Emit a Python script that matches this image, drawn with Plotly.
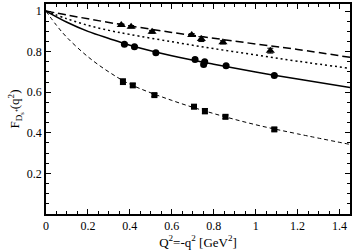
import plotly.graph_objects as go

# data points
tri_x = [0.359, 0.406, 0.506, 0.695, 0.741, 0.844, 1.070]
tri_y = [0.931, 0.923, 0.898, 0.882, 0.862, 0.846, 0.805]
tri_err = [0.006, 0.006, 0.007, 0.007, 0.012, 0.008, 0.012]

circ_x = [0.374, 0.422, 0.524, 0.711, 0.757, 0.752, 0.859, 1.089]
circ_y = [0.837, 0.824, 0.795, 0.762, 0.750, 0.737, 0.731, 0.683]
circ_err = [0.006, 0.006, 0.006, 0.006, 0.006, 0.006, 0.006, 0.006]

sq_x = [0.367, 0.414, 0.517, 0.706, 0.758, 0.856, 1.089]
sq_y = [0.652, 0.634, 0.586, 0.529, 0.507, 0.479, 0.417]
sq_err = [0.014, 0.008, 0.008, 0.010, 0.013, 0.009, 0.008]

# curves
cx = [0, 0.1, 0.2, 0.3, 0.4, 0.6, 0.8, 1.0, 1.2, 1.45]
long_dash_y = [1, 0.981, 0.962, 0.944, 0.927, 0.895, 0.866, 0.838, 0.811, 0.772]
dotted_y = [1, 0.962, 0.930, 0.905, 0.885, 0.849, 0.815, 0.784, 0.753, 0.718]
solid_y = [1, 0.945, 0.900, 0.865, 0.832, 0.780, 0.738, 0.700, 0.665, 0.624]
sx = [0, 0.05, 0.1, 0.2, 0.3, 0.4, 0.6, 0.8, 1.0, 1.2, 1.45]
short_dash_y = [1, 0.93, 0.87, 0.775, 0.700, 0.640, 0.560, 0.495, 0.440, 0.395, 0.343]

x_ticks = [0, 0.2, 0.4, 0.6, 0.8, 1.0, 1.2, 1.4]
x_labels = ["0", "0.2", "0.4", "0.6", "0.8", "1", "1.2", "1.4"]
y_ticks = [0.2, 0.4, 0.6, 0.8, 1.0]
y_labels = ["0.2", "0.4", "0.6", "0.8", "1"]

fig = go.Figure()
fig.add_trace(go.Scatter(x=cx, y=long_dash_y, mode="lines", line=dict(color="black", width=1.5, dash="8px,4px", shape="spline")))
fig.add_trace(go.Scatter(x=cx, y=dotted_y, mode="lines", line=dict(color="black", width=1.5, dash="2px,3px", shape="spline")))
fig.add_trace(go.Scatter(x=cx, y=solid_y, mode="lines", line=dict(color="black", width=1.5, shape="spline")))
fig.add_trace(go.Scatter(x=sx, y=short_dash_y, mode="lines", line=dict(color="black", width=1, dash="4px,3px", shape="spline")))

for xs, ys, es, sym, sz in [(tri_x, tri_y, tri_err, "triangle-up", 8),
                            (circ_x, circ_y, circ_err, "circle", 7),
                            (sq_x, sq_y, sq_err, "square", 6)]:
    fig.add_trace(go.Scatter(x=xs, y=ys, mode="markers",
                             marker=dict(symbol=sym, size=sz, color="black"),
                             error_y=dict(type="data", array=es, color="black", thickness=1, width=3)))

font = "Liberation Serif"
axis_common = dict(showline=True, linecolor="black", linewidth=1.5, mirror="ticks",
                   ticks="inside", ticklen=5, tickcolor="black", showgrid=False, zeroline=False,
                   tickfont=dict(family=font, size=12, color="black"))
fig.update_xaxes(range=[0, 1.45], tickvals=x_ticks, ticktext=x_labels,
                 minor=dict(ticks="inside", ticklen=3, dtick=0.05, tick0=0, tickcolor="black"),
                 title=dict(text="Q<sup>2</sup>=-q<sup>2</sup> [GeV<sup>2</sup>]", font=dict(family=font, size=13, color="black"), standoff=0),
                 **axis_common)
fig.update_yaxes(range=[0, 1.035], tickvals=y_ticks, ticktext=y_labels,
                 minor=dict(ticks="inside", ticklen=3, dtick=0.05, tick0=0, tickcolor="black"),
                 title=dict(text="F<sub>D<sub>s</sub>\u207a</sub>(q<sup>2</sup>)", font=dict(family=font, size=13, color="black"), standoff=4),
                 **axis_common)
fig.update_layout(width=354, height=250, margin=dict(l=46, r=2, t=4, b=36),
                  showlegend=False, plot_bgcolor="white", paper_bgcolor="white",
                  font=dict(family=font, color="black"))
fig.write_html("out.html", config={"displayModeBar": False},
               post_script="document.body.style.margin='0';document.body.style.padding='0';")
